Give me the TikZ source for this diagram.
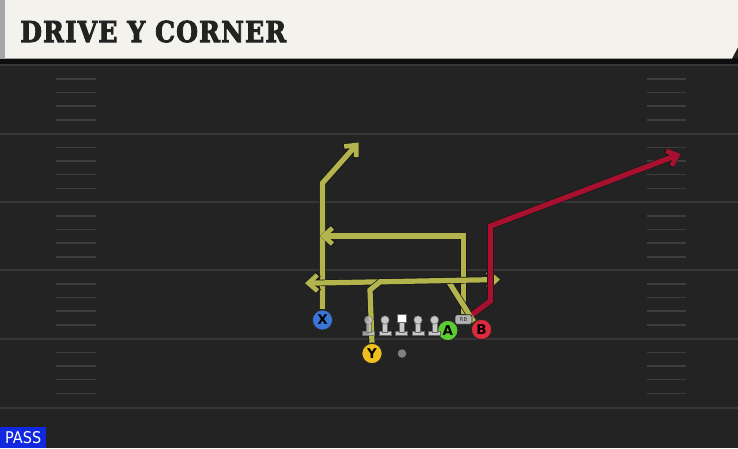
\documentclass[tikz,border=0pt]{standalone}
\usepackage{fontspec}
\usepackage{graphicx}
\usetikzlibrary{arrows.meta}
\newfontfamily\titlefont{DejaVu Serif}[FakeBold=3, LetterSpace=4]
\newfontfamily\labelfont{DejaVu Sans}
\definecolor{field}{HTML}{232323}
\definecolor{yard}{HTML}{363636}
\definecolor{hashc}{HTML}{3d3d3d}
\definecolor{header}{HTML}{F4F2EC}
\definecolor{titlecol}{HTML}{222222}
\definecolor{routey}{RGB}{180,180,76}
\definecolor{router}{RGB}{168,16,48}
\definecolor{xblue}{RGB}{58,118,216}
\definecolor{yyellow}{RGB}{240,190,30}
\definecolor{agreen}{RGB}{92,204,52}
\definecolor{bred}{RGB}{222,40,60}
\definecolor{passblue}{RGB}{16,40,224}
\definecolor{lineman}{HTML}{C8C8C8}
\pgfdeclarelayer{bg}
\pgfdeclarelayer{routes}
\pgfsetlayers{bg,routes,main}
\tikzset{
  yardline/.style={draw=yard, line width=2pt},
  hashline/.style={draw=hashc, line width=1.8pt},
  route/.style={line width=5.2pt, line join=miter,
    -{Straight Barb[length=9pt,width=16pt,line width=4.6pt]},
    preaction={draw=black!90, line width=6.6pt,
      -{Straight Barb[length=9.5pt,width=17.5pt,line width=6pt]}}},
  yroute/.style={route, draw=routey},
  rroute/.style={route, draw=router},
  player/.style={circle, minimum size=20.5pt, inner sep=0pt, draw=black!85,
    line width=1.1pt, text=black,
    font=\labelfont\bfseries\fontsize{13.5}{13.5}\selectfont},
  rbbox/.style={rectangle, rounded corners=2pt, fill=black!30, draw=black!85,
    line width=0.8pt, minimum width=17pt, minimum height=9.5pt, inner sep=0pt,
    text=black!80, font=\labelfont\fontsize{5.5}{5.5}\selectfont},
  lm/.style={fill=lineman, draw=black!60, line width=0.5pt}
}
\begin{document}
\begin{tikzpicture}[x=1pt,y=-1pt]
\useasboundingbox (0,0) rectangle (738,448);
\begin{pgfonlayer}{bg}
  \fill[field] (0,0) rectangle (738,448);
  \fill[black!60!field] (0,58) rectangle (738,64);
  \foreach \yy in {65,133.5,202,270,338.5,407.5}
    \draw[yardline] (0,\yy) -- (738,\yy);
  \foreach \b in {65,133.5,202,270,338.5}
    \foreach \o in {14,27.5,41,55} {
      \draw[hashline] (56,\b+\o) -- (96,\b+\o);
      \draw[hashline] (647,\b+\o) -- (686,\b+\o);
    }
  \fill[header] (0,0) -- (738,0) -- (738,47) -- (732,58.5) -- (0,58.5) -- cycle;
  \fill[black!35] (0,0) rectangle (5,58.5);
\end{pgfonlayer}

\node[anchor=south west, inner sep=0pt, text=titlecol] (title) at (20,42.7)
  {\resizebox{266pt}{21.5pt}{\titlefont\bfseries DRIVE Y CORNER}};

\node[anchor=south west, fill=passblue, minimum width=46pt, minimum height=21pt,
  inner sep=0pt, text=white] (pass) at (0,448)
  {\resizebox{36pt}{12pt}{\labelfont PASS}};

% players
\node[player, fill=xblue] (X) at (322.5,320) {X};
\node[player, fill=yyellow] (Y) at (372,353.5) {Y};
\node[player, fill=agreen] (A) at (447.8,330.5) {A};
\node[player, fill=bred] (B) at (481.5,329.5) {B};
\node[rbbox] (RB) at (463.5,319.5) {RB};
\node[circle, fill=black!50, minimum size=8.5pt, inner sep=0pt] (ball) at (402,353.5) {};

% line
\foreach \lx/\op in {368.5/0.75,385/1,418/1,434.5/1} {
  \begin{scope}[opacity=\op]
  \path[lm] (\lx-6,331) rectangle (\lx+6,335.5);
  \path[lm] (\lx-2.3,321) rectangle (\lx+2.3,332);
  \path[lm] (\lx,320) circle (4.2);
  \end{scope}
}
\path[lm] (395.7,331) rectangle (407.7,335.5);
\path[lm] (399.4,322) rectangle (404,332);
\path[fill=white, draw=black!60, line width=0.5pt] (397.4,313.8) rectangle (406,322.5);

\coordinate (xtip) at (358.5,142.5);
\coordinate (rbtip) at (320,236);
\coordinate (ytip) at (500,279.5);
\coordinate (btip) at (305,283.2);
\coordinate (rtip) at (680.5,154);

\begin{pgfonlayer}{routes}
  \draw[yroute] (X.north) -- (322.5,183) -- (xtip);
  \draw[yroute] (RB.north) |- (rbtip);
  \draw[yroute] (B.north west) -- (448,280.6) -- (btip);
  \draw[yroute] (Y.north) -- (370,290) -- (380,281.8) -- (ytip);
  \draw[rroute] (RB.north east) -- (490.5,301) -- (490.5,226) -- (rtip);
\end{pgfonlayer}
\end{tikzpicture}
\end{document}
